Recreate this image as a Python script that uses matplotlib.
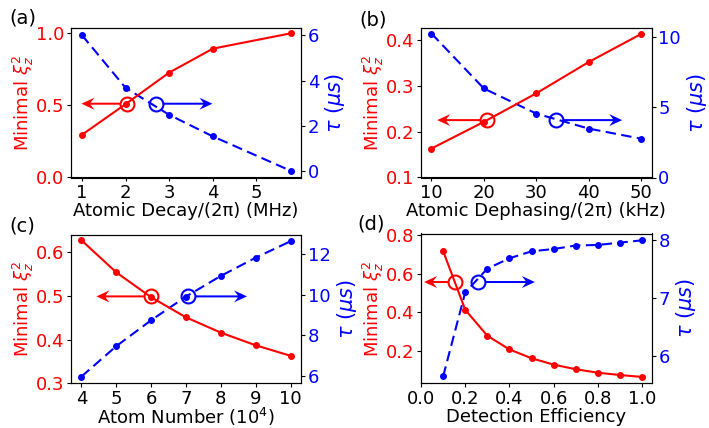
import matplotlib
matplotlib.use("Agg")
import matplotlib.pyplot as plt
import numpy as np

# ---------------- data ----------------
decay_x = [1, 2, 3, 4, 5.78]
decay_xi = [0.296, 0.509, 0.728, 0.894, 1.0]
decay_tau = [6.0, 3.68, 2.49, 1.54, 0.03]

deph_x = [10, 20, 30, 40, 50]
deph_xi = [0.163, 0.221, 0.283, 0.351, 0.412]
deph_tau = [10.27, 6.35, 4.56, 3.49, 2.77]

atom_x = [4, 5, 6, 7, 8, 9, 10]
atom_xi = [0.6275, 0.554, 0.497, 0.451, 0.416, 0.387, 0.363]
atom_tau = [5.97, 7.47, 8.75, 9.92, 10.94, 11.84, 12.65]

eff_x = [0.1, 0.2, 0.3, 0.4, 0.5, 0.6, 0.7, 0.8, 0.9, 1.0]
eff_xi = [0.719, 0.414, 0.279, 0.208, 0.162, 0.129, 0.105, 0.087, 0.075, 0.065]
eff_tau = [5.64, 7.09, 7.50, 7.68, 7.80, 7.84, 7.90, 7.91, 7.95, 7.99]

xlabels = ["Atomic Decay/(2\u03c0) (MHz)", "Atomic Dephasing/(2\u03c0) (kHz)",
           "Atom Number (10$^4$)", "Detection Efficiency"]
panel_labels = ["(a)", "(b)", "(c)", "(d)"]

# (x of red circle, x of blue circle, y in red units, red arrow tip x, blue arrow tip x)
circ = [
    (2.03, 2.69, 0.512, 0.99, 3.99),
    (20.6, 33.8, 0.2248, 11.1, 46.4),
    (5.99, 7.07, 0.499, 4.43, 8.75),
    (0.156, 0.258, 0.558, 0.014, 0.515),
]

W, H = 709, 428
fig = plt.figure(figsize=(W / 100, H / 100), dpi=100)
FS = 13

# axes boxes in pixels: left, right, top, bottom
boxes = [
    (71, 301, 28.3, 177.5),
    (421, 651.5, 28.3, 177.5),
    (71, 301, 234.5, 383.3),
    (421, 652, 233.5, 383.3),
]
label_pos = [(9, 8), (359, 11), (9, 217), (357, 214)]
xlabel_pads = [0, 0, -1.2, 0]

data = [
    (decay_x, decay_xi, decay_tau),
    (deph_x, deph_xi, deph_tau),
    (atom_x, atom_xi, atom_tau),
    (eff_x, eff_xi, eff_tau),
]


def draw_arrow(axh, x0, y0, x1, color):
    inv = axh.transData.inverted()
    p0 = axh.transData.transform((x0, y0))
    hl, hw, sw = 13.0, 12.0, 2.0
    dxp = inv.transform((p0[0] + 1, p0[1]))[0] - x0
    dyp = inv.transform((p0[0], p0[1] + 1))[1] - y0
    axh.arrow(x0, y0, x1 - x0, 0, width=sw * abs(dyp), head_width=hw * abs(dyp),
              head_length=hl * abs(dxp), length_includes_head=True, overhang=0.3,
              color=color, lw=0, zorder=5)


for i in range(4):
    l, r, t, b = boxes[i]
    ax = fig.add_axes([l / W, 1 - b / H, (r - l) / W, (b - t) / H])
    ax2 = ax.twinx()
    x, xi, tau = data[i]
    ax.plot(x, xi, '-o', color='red', lw=1.5, ms=4)
    ax2.plot(x, tau, '--o', color='blue', lw=1.5, ms=4, dashes=(5, 2.6))

    ax.set_xlabel(xlabels[i], fontsize=FS, labelpad=xlabel_pads[i])
    ax.set_ylabel(r"Minimal $\xi_z^2$", color='red', fontsize=FS, labelpad=0)
    ax2.set_ylabel(r"$\tau$ ($\mu s$)", color='blue', fontsize=15, labelpad=3)
    for a in (ax, ax2):
        a.tick_params(length=3, pad=1.8, labelsize=FS)
    ax.tick_params(axis='y', labelcolor='red')
    ax2.tick_params(axis='y', labelcolor='blue')

    if i == 0:
        ax.set_ylim(bottom=0)
        ax.set_xticks([1, 2, 3, 4, 5])
        ax.set_yticks([0.0, 0.5, 1.0])
        ax2.set_yticks([0, 2, 4, 6])
    elif i == 1:
        ax.set_ylim(bottom=0.1)
        ax2.set_ylim(bottom=0)
        ax.set_xticks([10, 20, 30, 40, 50])
        ax.set_yticks([0.1, 0.2, 0.3, 0.4])
        ax2.set_yticks([0, 5, 10])
    elif i == 2:
        ax.set_ylim(bottom=0.3)
        ax.set_xticks([4, 5, 6, 7, 8, 9, 10])
        ax.set_yticks([0.3, 0.4, 0.5, 0.6])
        ax2.set_yticks([6, 8, 10, 12])
    else:
        ax.set_xlim(left=0)
        ax.set_ylim(0.032, 0.81)
        ax.set_xticks([0.0, 0.2, 0.4, 0.6, 0.8, 1.0])
        ax.set_yticks([0.2, 0.4, 0.6, 0.8])
        ax2.set_yticks([6, 7, 8])

    cr, cb, cy, tr, tb = circ[i]
    ax.plot([cr], [cy], 'o', ms=10, mfc='none', mec='red', mew=1.5, zorder=6)
    ax.plot([cb], [cy], 'o', ms=10, mfc='none', mec='blue', mew=1.5, zorder=6)

    inv = ax.transData.inverted()
    pr = ax.transData.transform((cr, cy))
    pb = ax.transData.transform((cb, cy))
    xr0 = inv.transform((pr[0] - 7, pr[1]))[0]
    xb0 = inv.transform((pb[0] + 7, pb[1]))[0]
    draw_arrow(ax, xr0, cy, tr, 'red')
    draw_arrow(ax, xb0, cy, tb, 'blue')

    ax.set_zorder(ax2.get_zorder() + 1)
    ax.patch.set_visible(False)

    lx, ly = label_pos[i]
    fig.text(lx / W, 1 - ly / H, panel_labels[i], fontsize=14, ha='left', va='top')

fig.savefig("out.png", dpi=100)
